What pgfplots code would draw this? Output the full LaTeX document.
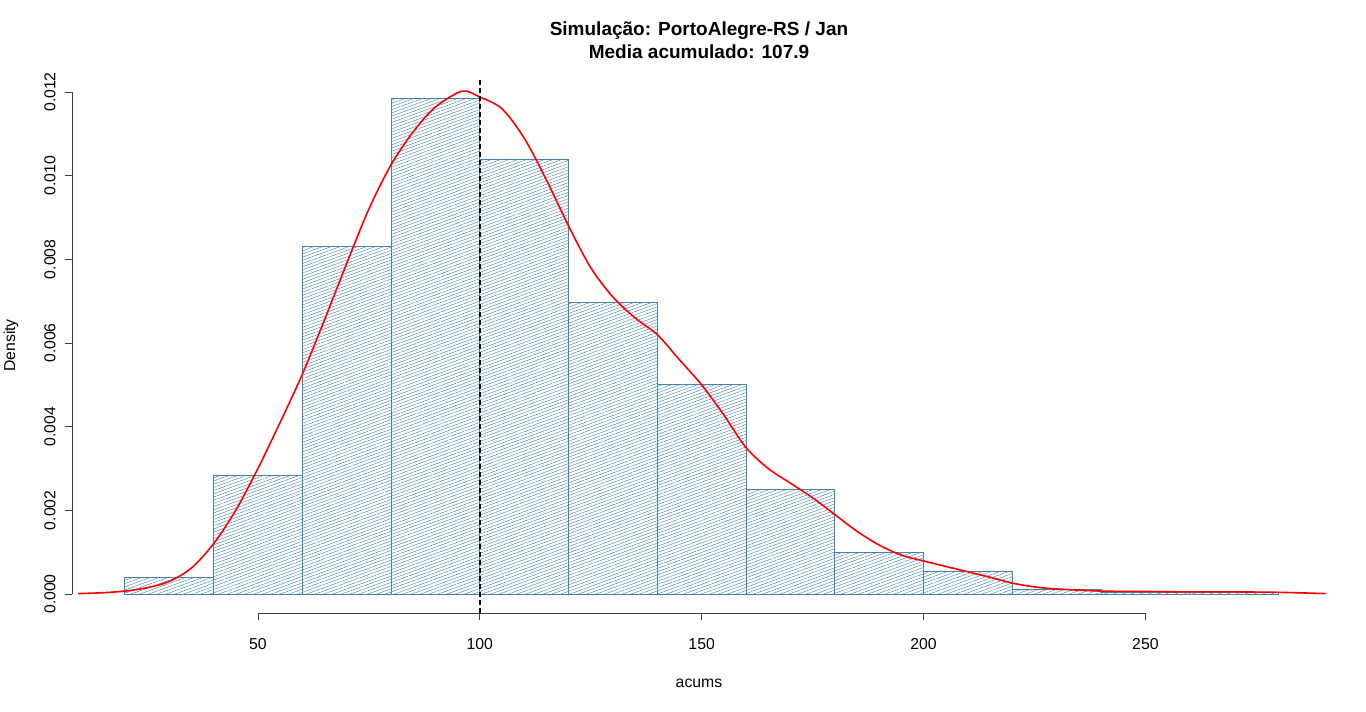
\documentclass[border=0pt]{standalone}
\usepackage{pgfplots}
\pgfplotsset{compat=1.18}
\usepackage{fontspec}
\setmainfont{Liberation Sans}
\usetikzlibrary{patterns.meta}
\definecolor{steelblue}{RGB}{70,130,180}

\begin{document}
\begin{tikzpicture}
\begin{axis}[
  at={(0,0)}, anchor=south west,
  scale only axis, width=1254pt, height=535pt,
  xmin=8.1, xmax=290.7,
  ymin=-0.000454, ymax=0.012335,
  axis x line*=bottom, axis y line*=left,
  axis line style={draw=none},
  tick align=outside, major tick length=7pt,
  tick style={black!75, line width=0.8pt},
  xtick={50,100,150,200,250},
  ytick={0,0.002,0.004,0.006,0.008,0.010,0.012},
  scaled y ticks=false,
  /pgf/number format/assume math mode=true,
  tick label style={font=\fontsize{15.8}{18}\selectfont},
  xticklabel style={yshift=-15pt},
  yticklabel style={rotate=90, anchor=south, yshift=6pt,
    /pgf/number format/.cd, fixed, fixed zerofill, precision=3},
  clip=false,
]
%% histogram, bins of 20
\addplot[ybar interval, draw=steelblue, line width=0.7pt,
  pattern={Lines[angle=20, distance=3pt, line width=0.45pt]},
  pattern color=steelblue]
  coordinates{
    (20,0.00040)(40,0.00284)(60,0.00830)(80,0.01186)(100,0.01040)
    (120,0.00696)(140,0.00500)(160,0.00251)(180,0.00100)(200,0.00055)
    (220,0.00010)(240,0.00005)(260,0.00005)(280,0.00005)
  };
%% kernel density
\addplot[red, line width=1.6pt, smooth, tension=0.5]
  coordinates{
    (9.5,0.00001)(15,0.00003)(20,0.00007)(25,0.00015)(30,0.00030)
    (35,0.00062)(40,0.00120)(45,0.00200)(50,0.00300)
    (55,0.00410)(60,0.00525)(65,0.00655)(70,0.00790)(75,0.00920)
    (80,0.01026)(85,0.01105)(90,0.01164)(96,0.01202)(100,0.01188)
    (105,0.01160)(110,0.01090)(115,0.00990)(120,0.00880)(125,0.00780)
    (130,0.00710)(135,0.00660)(140,0.00620)(145,0.00560)(150,0.00500)
    (155,0.00428)(160,0.00350)(165,0.00300)(170,0.00265)(175,0.00230)
    (180,0.00190)(185,0.00150)(190,0.00117)(195,0.00093)(200,0.00079)
    (205,0.00066)(210,0.00053)(215,0.00040)(220,0.00026)(225,0.00017)
    (230,0.00012)(240,0.00007)(250,0.00006)(260,0.00005)(270,0.00005)
    (280,0.00004)(290.7,0.00001)
  };
%% mean line
\addplot[black, line width=1.6pt, dash pattern=on 5pt off 3pt]
  coordinates{(100,-0.000454)(100,0.012335)};
%% R-style axis lines
\draw[black!75, line width=0.8pt] (axis cs:50,-0.000454) -- (axis cs:250,-0.000454);
\draw[black!75, line width=0.8pt] (axis cs:8.1,0) -- (axis cs:8.1,0.012);
%% titles and labels
\node[anchor=base, font=\bfseries\fontsize{19}{23}\selectfont, yshift=42pt]
  at (rel axis cs:0.5,1) {Simulação: PortoAlegre-RS / Jan};
\node[anchor=base, font=\bfseries\fontsize{19}{23}\selectfont, yshift=19pt]
  at (rel axis cs:0.5,1) {Media acumulado: 107.9};
\node[font=\fontsize{15.8}{18}\selectfont, yshift=-70pt]
  at (rel axis cs:0.5,0) {acums};
\path (rel axis cs:0,0.5) ++(-61pt,0pt)
  node[font=\fontsize{15.8}{18}\selectfont, rotate=90] {Density};
\end{axis}
\pgfresetboundingbox
\path (-72pt,-99pt) rectangle (1294pt,613pt);
\end{tikzpicture}
\end{document}
